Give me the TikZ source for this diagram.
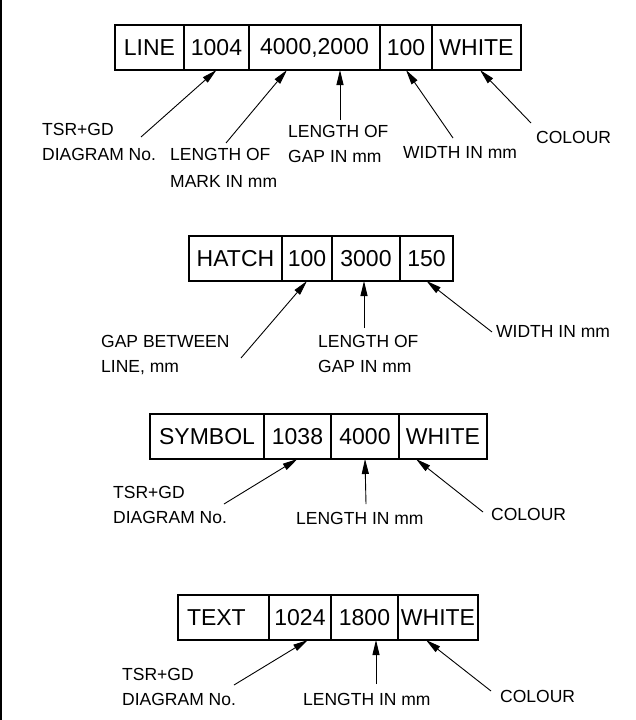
\documentclass[tikz,border=0pt]{standalone}
\usepackage{fontspec}
\setmainfont{Liberation Sans}
\usetikzlibrary{arrows.meta,positioning}

\begin{document}
\begin{tikzpicture}[x=1pt,y=-1pt,
    cell/.style={rectangle,draw,line width=1.1pt,outer sep=0pt,inner sep=0pt,
                 minimum height=45pt,font=\fontsize{23}{27}\selectfont},
    lbl/.style={align=left,inner sep=0pt,anchor=base west,font=\fontsize{17.5}{25}\selectfont},
    ptr/.style={-{Triangle[length=15pt,width=7pt]},line width=0.9pt}]

    \useasboundingbox (0,0) rectangle (635,720);
    \draw[line width=1.5pt] (0.75,0) -- (0.75,720);

    % LINE
    \node[cell,minimum width=69pt,anchor=north west] (l1) at (115,25) {LINE};
    \node[cell,minimum width=65pt,right=0pt of l1] (l2) {1004};
    \node[cell,minimum width=131pt,right=0pt of l2] (l3) {4000,2000};
    \node[cell,minimum width=52pt,right=0pt of l3] (l4) {100};
    \node[cell,minimum width=89pt,right=0pt of l4] (l5) {WHITE};

    % base = last line
    \node[lbl] (ldiag) at (42,160) {TSR+GD\\DIAGRAM No.};
    \node[lbl,font=\fontsize{17.5}{27}\selectfont] (lmark) at (170,187) {LENGTH OF\\MARK IN mm};
    \node[lbl] (lgap) at (288,162) {LENGTH OF\\GAP IN mm};
    \node[lbl] (lwid) at (403,158) {WIDTH IN mm};
    \node[lbl] (lcol) at (536,143) {COLOUR};

    \coordinate (la) at (141,137);
    \coordinate (lb) at (226,143);
    \coordinate (lc) at (340,120);
    \coordinate (ld) at (453,138);
    \coordinate (le) at (531,123);
    \draw[ptr] (la) -- (l2.south);
    \draw[ptr] (lb) -- ([xshift=-27.5pt]l3.south);
    \draw[ptr] (lc) -- ([xshift=25.5pt]l3.south);
    \draw[ptr] (ld) -- (l4.south);
    \draw[ptr] (le) -- ([xshift=3.5pt]l5.south);

    % HATCH
    \node[cell,minimum width=93pt,anchor=north west] (h1) at (189,236) {HATCH};
    \node[cell,minimum width=50pt,right=0pt of h1] (h2) {100};
    \node[cell,minimum width=68pt,right=0pt of h2] (h3) {3000};
    \node[cell,minimum width=53pt,right=0pt of h3] (h4) {150};

    \node[lbl] (hgap) at (101,372) {GAP BETWEEN\\LINE, mm};
    \node[lbl] (hlen) at (318,372) {LENGTH OF\\GAP IN mm};
    \node[lbl] (hwid) at (496,337) {WIDTH IN mm};

    \coordinate (ha) at (241,358);
    \coordinate (hb) at (364,328);
    \coordinate (hc) at (492,332);
    \draw[ptr] (ha) -- (h2.south);
    \draw[ptr] (hb) -- ([xshift=-2pt]h3.south);
    \draw[ptr] (hc) -- (h4.south);

    % SYMBOL
    \node[cell,minimum width=114pt,anchor=north west] (s1) at (150,414) {SYMBOL};
    \node[cell,minimum width=67pt,right=0pt of s1] (s2) {1038};
    \node[cell,minimum width=68pt,right=0pt of s2] (s3) {4000};
    \node[cell,minimum width=88pt,right=0pt of s3] (s4) {WHITE};

    \node[lbl] (sdiag) at (113,523) {TSR+GD\\DIAGRAM No.};
    \node[lbl] (slen) at (296,524) {LENGTH IN mm};
    \node[lbl] (scol) at (491,520) {COLOUR};

    \coordinate (sa) at (224,504);
    \coordinate (sb) at (366,504);
    \coordinate (sc) at (483,512);
    \draw[ptr] (sa) -- (s2.south);
    \draw[ptr] (sb) -- (s3.south);
    \draw[ptr] (sc) -- ([xshift=-27pt]s4.south);

    % TEXT
    \node[cell,text width=73pt,inner xsep=9pt,align=left,anchor=north west] (t1) at (178,595) {TEXT};
    \node[cell,minimum width=62pt,right=0pt of t1] (t2) {1024};
    \node[cell,minimum width=67pt,right=0pt of t2] (t3) {1800};
    \node[cell,minimum width=80pt,right=0pt of t3] (t4) {WHITE};

    \node[lbl] (tdiag) at (122,705) {TSR+GD\\DIAGRAM No.};
    \node[lbl] (tlen) at (303,705) {LENGTH IN mm};
    \node[lbl] (tcol) at (500,702) {COLOUR};

    \coordinate (ta) at (234,685);
    \coordinate (tb) at (376,684);
    \coordinate (tc) at (491,691);
    \draw[ptr] (ta) -- ([xshift=8pt]t2.south);
    \draw[ptr] (tb) -- ([xshift=11.5pt]t3.south);
    \draw[ptr] (tc) -- ([xshift=-12pt]t4.south);

\end{tikzpicture}
\end{document}
